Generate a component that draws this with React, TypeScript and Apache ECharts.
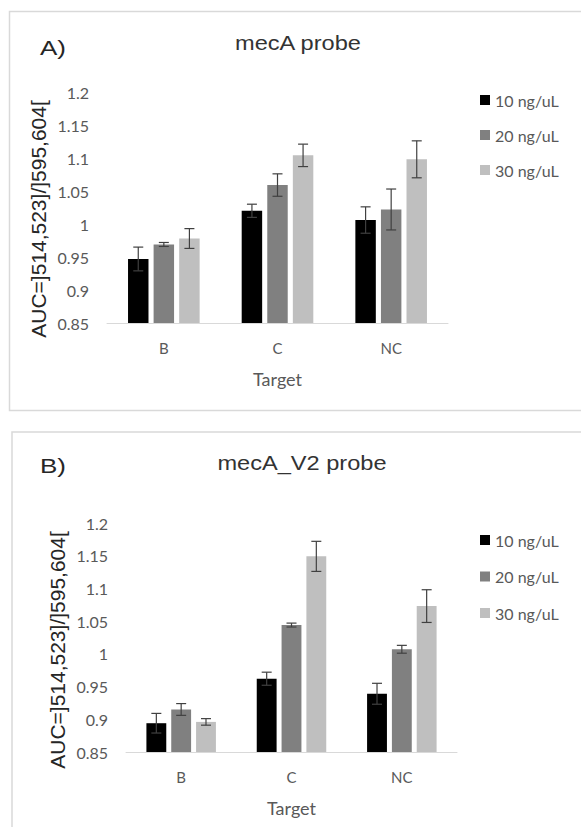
import React, { useEffect, useRef } from "react";
import * as echarts from "echarts";

const categories = ["B", "C", "NC"];
const seriesNames = ["10 ng/uL", "20 ng/uL", "30 ng/uL"];
const seriesColors = ["#000000", "#808080", "#bfbfbf"];
const yTicks = [0.85, 1.2, 0.05];

// Panel A: mecA probe
const mecA10 = [0.947, 1.02, 1.006];
const mecA20 = [0.969, 1.059, 1.022];
const mecA30 = [0.978, 1.104, 1.098];
const mecA10Err = [0.018, 0.01, 0.02];
const mecA20Err = [0.003, 0.017, 0.031];
const mecA30Err = [0.015, 0.017, 0.028];

// Panel B: mecA_V2 probe
const v2_10 = [0.894, 0.962, 0.939];
const v2_20 = [0.915, 1.044, 1.007];
const v2_30 = [0.896, 1.149, 1.073];
const v2_10Err = [0.015, 0.01, 0.016];
const v2_20Err = [0.009, 0.003, 0.006];
const v2_30Err = [0.005, 0.023, 0.025];

const panelTitles = ["mecA probe", "mecA_V2 probe"];
const panelLetters = ["A)", "B)"];
const yTitle = "AUC=]514,523]/]595,604[";
const xTitle = "Target";

const BAR_FRAC = 0.18;
const GAP_FRAC = 0.25;

export default function App() {
  const ref = useRef<HTMLDivElement>(null);

  useEffect(() => {
    if (!ref.current) return;
    const chart = echarts.init(ref.current, null, { renderer: "svg" });

    const panels = [
      { vals: [mecA10, mecA20, mecA30], errs: [mecA10Err, mecA20Err, mecA30Err] },
      { vals: [v2_10, v2_20, v2_30], errs: [v2_10Err, v2_20Err, v2_30Err] },
    ];

    const grids = [
      { left: 107, top: 92, width: 341, height: 231 },
      { left: 126, top: 523, width: 331, height: 229 },
    ];

    const xAxes = grids.map((_, i) => ({
      type: "category",
      gridIndex: i,
      data: categories,
      axisLine: { lineStyle: { color: "#d9d9d9", width: 1 } },
      axisTick: { show: false },
      axisLabel: { color: "#595959", fontFamily: "Lato", fontSize: 15, margin: 17 },
      name: xTitle,
      nameLocation: "middle",
      nameGap: 47,
      nameTextStyle: { color: "#595959", fontFamily: "Lato", fontSize: 18 },
    }));

    const yAxes = grids.map((_, i) => ({
      type: "value",
      gridIndex: i,
      min: yTicks[0],
      max: yTicks[1],
      interval: yTicks[2],
      axisLine: { show: false },
      axisTick: { show: false },
      splitLine: { show: false },
      axisLabel: {
        color: "#595959",
        fontFamily: "Lato",
        fontSize: 16,
        margin: 18,
        formatter: (v: number) => String(+v.toFixed(2)),
      },
    }));

    const series: any[] = [];
    panels.forEach((p, pi) => {
      p.vals.forEach((vals, k) => {
        series.push({
          type: "bar",
          name: seriesNames[k],
          xAxisIndex: pi,
          yAxisIndex: pi,
          data: vals,
          barWidth: BAR_FRAC * 100 + "%",
          barGap: GAP_FRAC * 100 + "%",
          itemStyle: { color: seriesColors[k] },
        });
      });
      p.vals.forEach((vals, k) => {
        const errData = vals.map((v, ci) => [ci, v - p.errs[k][ci], v + p.errs[k][ci]]);
        series.push({
          type: "custom",
          xAxisIndex: pi,
          yAxisIndex: pi,
          data: errData,
          encode: { x: 0, y: [1, 2] },
          z: 5,
          renderItem: (params: any, api: any) => {
            const ci = api.value(0);
            const band = api.size([1, 0])[0];
            const off = (k - 1) * band * BAR_FRAC * (1 + GAP_FRAC);
            const lo = api.coord([ci, api.value(1)]);
            const hi = api.coord([ci, api.value(2)]);
            const x = lo[0] + off;
            const cap = 5;
            const style = { stroke: "#404040", lineWidth: 1.2 };
            return {
              type: "group",
              children: [
                { type: "line", shape: { x1: x, y1: lo[1], x2: x, y2: hi[1] }, style },
                { type: "line", shape: { x1: x - cap, y1: hi[1], x2: x + cap, y2: hi[1] }, style },
                { type: "line", shape: { x1: x - cap, y1: lo[1], x2: x + cap, y2: lo[1] }, style },
              ],
            };
          },
        });
      });
    });

    const legendTops = [87, 527];
    const legendGaps = [19, 20.5];
    const legends = legendTops.map((top, i) => ({
      orient: "vertical",
      left: 475,
      top,
      itemWidth: 10,
      itemHeight: 10,
      itemGap: legendGaps[i],
      icon: "rect",
      data: seriesNames,
      selectedMode: false,
      textStyle: { color: "#595959", fontFamily: "Lato", fontSize: 16, lineHeight: 16 },
    }));

    const graphic: any[] = [
      {
        type: "rect",
        shape: { x: 9.5, y: 11.5, width: 620, height: 399 },
        style: { fill: "none", stroke: "#d9d9d9", lineWidth: 1.5 },
        silent: true,
      },
      {
        type: "rect",
        shape: { x: 12, y: 432, width: 620, height: 420 },
        style: { fill: "none", stroke: "#d9d9d9", lineWidth: 1.5 },
        silent: true,
      },
    ];
    const titleCenters = [
      [298, 43],
      [302, 463],
    ];
    const letterPos = [
      [40, 48],
      [40, 466],
    ];
    const yTitleCenters = [
      [38, 219],
      [57, 650],
    ];
    for (let i = 0; i < 2; i++) {
      graphic.push({
        type: "text",
        x: titleCenters[i][0],
        y: titleCenters[i][1],
        scaleX: 1.18,
        style: {
          text: panelTitles[i],
          fill: "#333333",
          font: '20px "Liberation Sans", Arial, sans-serif',
          align: "center",
          verticalAlign: "middle",
        },
      });
      graphic.push({
        type: "text",
        x: letterPos[i][0],
        y: letterPos[i][1],
        scaleX: 1.3,
        style: {
          text: panelLetters[i],
          fill: "#262626",
          font: '20px "Liberation Sans", Arial, sans-serif',
          align: "left",
          verticalAlign: "middle",
        },
      });
      graphic.push({
        type: "text",
        x: yTitleCenters[i][0],
        y: yTitleCenters[i][1],
        rotation: Math.PI / 2,
        style: {
          text: yTitle,
          fill: "#262626",
          font: '21px "Liberation Sans", Arial, sans-serif',
          align: "center",
          verticalAlign: "middle",
        },
      });
    }

    chart.setOption({
      animation: false,
      backgroundColor: "#ffffff",
      grid: grids,
      xAxis: xAxes,
      yAxis: yAxes,
      legend: legends,
      series,
      graphic,
    });

    return () => chart.dispose();
  }, []);

  return (
    <div
      ref={ref}
      style={{ position: "absolute", left: 0, top: 0, width: 581, height: 827, background: "#fff" }}
    />
  );
}
